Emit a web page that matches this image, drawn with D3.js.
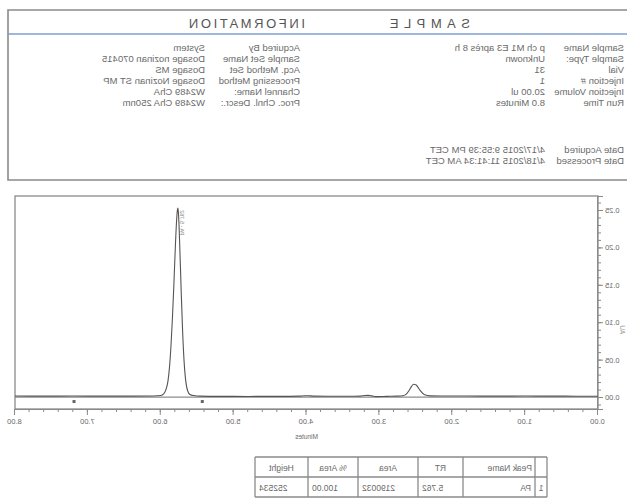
<!DOCTYPE html>
<html><head><meta charset="utf-8">
<script src="https://cdn.jsdelivr.net/npm/d3@7"></script>
<style>
html,body{margin:0;padding:0;background:#fff;}
svg{display:block;font-family:"Liberation Sans",Arial,sans-serif;}
</style></head>
<body>
<svg id="c" width="627" height="499"></svg>
<script>
// ---------- data ----------
const titleWords = ["SAMPLE", "INFORMATION"];
const infoLabels1 = ["Sample Name", "Sample Type:", "Vial", "Injection #", "Injection Volume", "Run Time"];
const infoValues1 = ["p ch M1 E3 après 8 h", "Unknown", "31", "1", "20.00 ul", "8.0 Minutes"];
const infoLabels2 = ["Acquired By", "Sample Set Name", "Acq. Method Set", "Processing Method", "Channel Name:", "Proc. Chnl. Descr.:"];
const infoValues2 = ["System", "Dosage nozinan 070415", "Dosage MS", "Dosage Nozinan ST MP", "W2489 ChA", "W2489 ChA 250nm"];
const dateLabels = ["Date Acquired", "Date Processed"];
const dateValues = ["4/17/2015 9:55:39 PM CET", "4/18/2015 11:41:34 AM CET"];

const xTicks = [0, 1, 2, 3, 4, 5, 6, 7, 8];
const yTicks = [0, 0.05, 0.10, 0.15, 0.20, 0.25];
const xLabel = "Minutes";
const yLabel = "AU";

// chromatogram (time in minutes, absorbance in AU)
const times = [0.00, 0.30, 0.60, 1.00, 1.40, 1.80, 2.10, 2.30, 2.38, 2.43, 2.47, 2.50, 2.53, 2.56, 2.59, 2.63, 2.68, 2.75, 2.90, 3.05, 3.10, 3.15, 3.20, 3.26, 3.35, 3.60, 3.90, 3.98, 4.03, 4.10, 4.40, 4.80, 5.20, 5.45, 5.55, 5.60, 5.63, 5.66, 5.68, 5.70, 5.72, 5.74, 5.75, 5.76, 5.765, 5.77, 5.78, 5.80, 5.82, 5.84, 5.86, 5.88, 5.90, 5.93, 5.96, 6.00, 6.10, 6.40, 6.80, 7.20, 7.60, 8.00];
const absorbance = [0.0010, 0.0011, 0.0012, 0.0013, 0.0012, 0.0013, 0.0014, 0.0015, 0.0030, 0.0075, 0.0130, 0.0165, 0.0170, 0.0140, 0.0090, 0.0040, 0.0018, 0.0012, 0.0009, 0.0006, 0.0015, 0.0022, 0.0020, 0.0012, 0.0010, 0.0010, 0.0012, 0.0018, 0.0017, 0.0012, 0.0009, 0.0008, 0.0009, 0.0012, 0.0020, 0.0035, 0.0080, 0.0240, 0.0480, 0.0880, 0.1430, 0.2040, 0.2320, 0.2490, 0.2525, 0.2510, 0.2400, 0.2000, 0.1500, 0.1050, 0.0680, 0.0400, 0.0220, 0.0095, 0.0042, 0.0020, 0.0014, 0.0012, 0.0012, 0.0013, 0.0012, 0.0013];
const markerTimes = [5.43, 7.19];
const peakLabel = "PA - 5.762";

const tableHeaders = ["", "Peak Name", "RT", "Area", "% Area", "Height"];
const tableRow = ["1", "PA", "5.762", "2190032", "100.00", "252534"];

// ---------- drawing ----------
const svg = d3.select("#c");
// The reference is a horizontally mirrored scan: draw normally, then mirror.
const g = svg.append("g").attr("transform", "translate(627,0) scale(-1,1)");

const frame = "#8a8a8a", txt = "#6a6a6a";

// Sample information box
g.append("path").attr("d", "M-5,10 H619 V180 H-5").attr("fill", "none").attr("stroke", frame).attr("stroke-width", 1.6);
g.append("line").attr("x1", -5).attr("x2", 619).attr("y1", 34).attr("y2", 34).attr("stroke", "#7f9fd0").attr("stroke-width", 1.6);
g.append("text").attr("x", 157).attr("y", 28).text(titleWords[0])
  .attr("font-size", 13).attr("letter-spacing", 5.5).attr("fill", "#555");
g.append("text").attr("x", 322).attr("y", 28).text(titleWords[1])
  .attr("font-size", 13).attr("letter-spacing", 2.6).attr("fill", "#555");

const rowY = i => 51 + i * 11;
function col(arr, x, ys) {
  g.append("g").selectAll("text").data(arr).join("text")
    .attr("x", x).attr("y", (d, i) => ys(i)).text(d => d)
    .attr("font-size", 9.5).attr("fill", txt);
}
col(infoLabels1, 3, rowY);
col(infoValues1, 82, rowY);
col(infoLabels2, 327, rowY);
col(infoValues2, 422, rowY);
col(dateLabels, 3, i => 153 + i * 11);
col(dateValues, 82, i => 153 + i * 11);

// Chromatogram
const x = d3.scaleLinear().domain([0, 8]).range([29, 612]);
const y = d3.scaleLinear().domain([-0.016, 0.2687]).range([409, 196]);

g.append("rect").attr("x", x(0)).attr("y", y(0.2687)).attr("width", x(8) - x(0)).attr("height", y(-0.016) - y(0.2687))
  .attr("fill", "none").attr("stroke", frame).attr("stroke-width", 1.3);

const minorX = d3.range(0, 41).map(i => i * 0.2);
const minorY = d3.range(-1, 27).map(i => i * 0.01);

const xa = g.append("g").attr("transform", `translate(0,${y(-0.016)})`);
xa.call(d3.axisBottom(x).tickValues(minorX).tickSize(3).tickFormat(""));
const xb = g.append("g").attr("transform", `translate(0,${y(-0.016)})`);
xb.call(d3.axisBottom(x).tickValues(xTicks).tickSize(6).tickFormat(d3.format(".2f")).tickPadding(4));
const ya = g.append("g").attr("transform", `translate(${x(0)},0)`);
ya.call(d3.axisLeft(y).tickValues(minorY).tickSize(3).tickFormat(""));
const yb = g.append("g").attr("transform", `translate(${x(0)},0)`);
yb.call(d3.axisLeft(y).tickValues(yTicks).tickSize(5).tickFormat(d3.format(".2f")).tickPadding(2));
[xa, xb, ya, yb].forEach(a => {
  a.selectAll("path,line").attr("stroke", frame);
  a.selectAll("text").attr("fill", txt).attr("font-size", 7.5).attr("font-family", "Liberation Sans, Arial, sans-serif");
});

g.append("text").attr("x", (x(0) + x(8)) / 2).attr("y", 439).attr("text-anchor", "middle")
  .attr("font-size", 6.5).attr("fill", txt).text(xLabel);
g.append("text").attr("transform", `translate(7,${y(0.09)}) rotate(-90)`).attr("text-anchor", "middle")
  .attr("font-size", 6.5).attr("fill", "#999").text(yLabel);

// zero baseline
g.append("line").attr("x1", x(0)).attr("x2", x(8)).attr("y1", y(0)).attr("y2", y(0))
  .attr("stroke", "#8c8c8c").attr("stroke-width", 1.2);

const pts = times.map((t, i) => [t, absorbance[i]]);
g.append("path").datum(pts)
  .attr("d", d3.line().x(d => x(d[0])).y(d => y(d[1])).curve(d3.curveMonotoneX))
  .attr("fill", "none").attr("stroke", "#555").attr("stroke-width", 1.1);

g.append("g").selectAll("rect").data(markerTimes).join("rect")
  .attr("x", d => x(d) - 1.5).attr("y", y(0) + 3).attr("width", 3).attr("height", 3).attr("fill", "#666");

g.append("text").attr("transform", `translate(${x(5.762) - 2},${y(0.2525) + 2}) rotate(-90)`)
  .attr("text-anchor", "end").attr("font-size", 5.5).attr("fill", "#888").text(peakLabel);

// Peak table
const colX = [80, 92, 164, 209, 269, 319, 372];
const rowsY = [457, 477, 497];
const tg = g.append("g");
tg.selectAll("line.h").data(rowsY).join("line")
  .attr("x1", colX[0]).attr("x2", colX[colX.length - 1]).attr("y1", d => d).attr("y2", d => d)
  .attr("stroke", frame).attr("stroke-width", 1.3);
tg.selectAll("line.v").data(colX).join("line")
  .attr("x1", d => d).attr("x2", d => d).attr("y1", rowsY[0]).attr("y2", rowsY[2])
  .attr("stroke", frame).attr("stroke-width", 1.3);
const anchors = ["middle", "start", "middle", "middle", "middle", "middle"];
const ax = (i) => anchors[i] === "start" ? colX[i] + 3 : (colX[i] + colX[i + 1]) / 2;
tg.selectAll("text.hd").data(tableHeaders).join("text")
  .attr("x", (d, i) => ax(i)).attr("y", 471).attr("text-anchor", (d, i) => anchors[i])
  .attr("font-size", 8.5).attr("fill", txt).text(d => d);
const rAnch = ["middle", "start", "end", "end", "end", "end"];
const rx = (i) => rAnch[i] === "start" ? colX[i] + 4 : rAnch[i] === "end" ? colX[i + 1] - 4 : (colX[i] + colX[i + 1]) / 2;
tg.selectAll("text.rw").data(tableRow).join("text")
  .attr("x", (d, i) => rx(i)).attr("y", 491).attr("text-anchor", (d, i) => rAnch[i])
  .attr("font-size", 8.5).attr("fill", txt).text(d => d);
</script>
</body></html>
